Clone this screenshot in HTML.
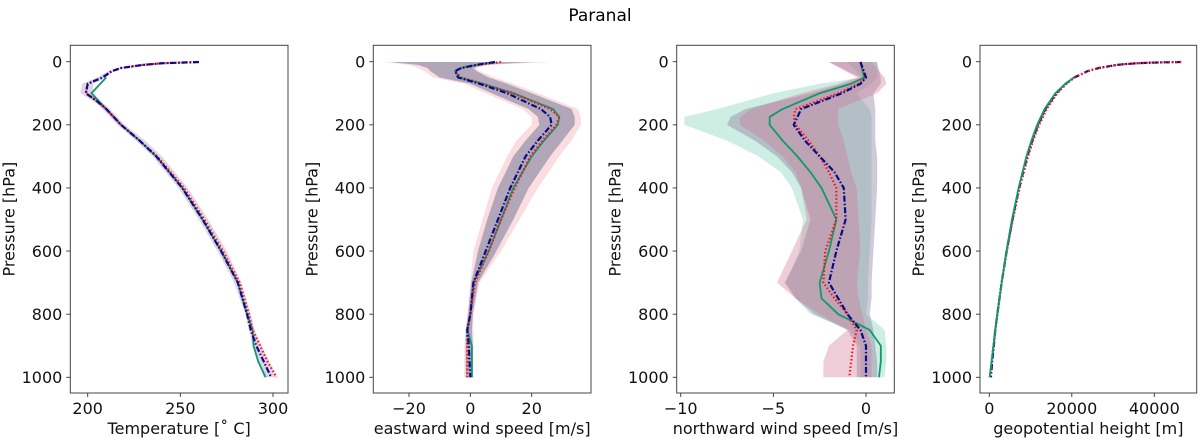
<!DOCTYPE html>
<html><head><meta charset="utf-8"><style>
html,body{margin:0;padding:0;background:#fff;}
svg{display:block;font-family:"DejaVu Sans","Liberation Sans",sans-serif;}
</style></head><body>
<svg id="fig" width="1200" height="439" viewBox="0 0 1200 439" xmlns="http://www.w3.org/2000/svg">
<text x="600" y="21" text-anchor="middle" font-size="17" fill="#000">Paranal</text>
</svg>
<script>
// ---- shared data ----
const pressureTicks = [0, 200, 400, 600, 800, 1000];

// Temperature panel
const tP = [1, 5, 10, 20, 30, 50, 70, 100, 125, 150, 200, 250, 300, 400, 500, 600, 700, 800, 850, 900, 950, 1000];
const tNavy = [260, 240, 230, 218, 213, 208, 200, 199, 205, 210, 218, 228, 237, 251, 262, 272, 281, 286, 288, 291, 295, 299];
const tRed = [260, 240, 230, 218, 213, 208, 200, 199, 205, 210, 218, 228, 237.5, 252, 263, 273, 282, 287, 289, 293, 297, 302];
const tGreenP = [50, 100, 125, 150, 200, 250, 300, 400, 500, 600, 700, 800, 850, 900, 950, 1000];
const tGreen = [210, 202, 206, 210, 218, 228, 237, 251, 262, 272, 281, 286, 289, 289.5, 292, 296];
const tBandLo = [259, 239, 229, 216, 211, 205, 197, 196, 203, 208, 216, 226, 235, 249, 260, 270, 279, 285, 287, 289, 292, 295];
const tBandHi = [261, 241, 231, 219, 214, 210, 203, 203, 207, 212, 220, 231, 240, 254, 265, 275, 283, 288, 290, 294, 298, 302];
const tTicks = [200, 250, 300];

// Eastward wind panel
const uP = [1, 10, 20, 30, 50, 70, 100, 150, 175, 200, 250, 300, 400, 500, 600, 700, 800, 850, 900, 1000];
const uNavy = [8, 2, -3, -5, -4, 3, 12, 23, 26, 26.5, 22, 18, 13, 9, 5, 1, 0, -1, -0.5, 0];
const uRed = [10, 3, -3, -5, -3, 4, 14, 26, 29, 28, 23.5, 19.5, 14.5, 10, 6, 1.5, 0, -1, -1, -1];
const uGreen = [8, 2, -3, -5, -3.5, 4, 14, 27, 29, 28.5, 24, 20, 14, 10, 6, 1, 0, -1, 0.5, 0.5];
const uBandLo = [-28, -20, -17, -15, -12, -2, 5, 17, 20, 20, 15, 12, 7, 4, 1, 0, -1, -1.5, -2, -2];
const uBandHi = [27, 6, 2, 3, 8, 14, 22, 35, 36, 36, 33, 29, 22, 16, 10, 3, 1, 1, 1, 1];
const uBand2Lo = [-26, -17, -14, -13, -10, 0, 7, 19, 22, 22.5, 18, 14, 9, 5.5, 2.5, 0.3, -0.7, -1.5, -1.5, -1.5];
const uBand2Hi = [20, 4, 1, 2, 6, 12, 20, 33, 34, 34, 30, 26, 19, 14, 8.5, 2.5, 0.8, 0.5, 0.8, 0.8];
const uTicks = [-20, 0, 20];

// Northward wind panel
const vP = [1, 50, 70, 100, 150, 175, 200, 250, 300, 350, 400, 500, 600, 700, 750, 800, 850, 900, 950, 1000];
const vNavy = [-0.3, 0, -0.3, -1.3, -3.5, -3.7, -3.9, -3.3, -2.5, -1.7, -1.2, -1.1, -1.6, -2.0, -1.5, -1.0, -0.3, 0, 0, 0];
const vRed = [-0.3, 0, -0.4, -1.5, -3.8, -3.9, -3.8, -3.1, -2.5, -2.0, -1.6, -1.6, -2.2, -2.3, -1.7, -1.0, -0.5, -0.7, -0.8, -0.9];
const vGreen = [-0.3, -0.1, -0.8, -2.5, -4.5, -5.2, -5.2, -4.5, -3.7, -3.0, -2.4, -1.6, -2.0, -2.5, -2.4, -1.5, 0.2, 0.8, 0.8, 0.7];
const vGreenLo = [-1, -0.2, -2.5, -5, -8, -9.8, -9.8, -7.5, -5.8, -4.6, -4, -3.4, -3.6, -4.3, -3.8, -3, -0.8, -0.3, -0.3, -0.3];
const vGreenHi = [0.6, 0.6, 0.3, -0.5, 0.2, 0.3, 0.3, 0.3, 0.3, 0.3, 0.3, 0.3, 0.2, 0.1, 0.1, 0, 1, 1.1, 1.1, 1];
const vNavyLo = [-2, -0.3, -1.2, -3, -6.5, -7.3, -7.5, -6, -4.8, -4, -3.5, -3, -3.5, -4.4, -3.8, -2.8, -1, -0.5, -0.5, -0.5];
const vNavyHi = [0.6, 0.8, 0.8, 0.4, 0.5, 0.5, 0.5, 0.5, 0.6, 0.6, 0.6, 0.5, 0.4, 0.3, 0.3, 0.2, 0.4, 0.5, 0.6, 0.6];
const vRedLo = [-2, -0.5, -1.5, -3.5, -6.2, -6.8, -6.8, -5.5, -4.5, -3.8, -3.5, -3.2, -4, -4.8, -3.8, -2.5, -1, -2, -2.3, -2.3];
const vRedHi = [0.3, 1.0, 1.1, 0.6, -1.5, -1.5, -1.5, -1.2, -1, -0.8, -0.5, -0.4, -0.3, -0.5, -0.4, -0.2, 0, 0.3, 0.3, 0.3];
const vTicks = [-10, -5, 0];

// Geopotential panel
const zP = [1, 2, 3, 5, 7, 10, 20, 30, 50, 70, 100, 150, 200, 250, 300, 400, 500, 600, 700, 800, 850, 900, 950, 1000];
const zNavy = [46500, 42500, 39000, 35800, 33500, 31000, 26500, 23800, 20600, 18500, 16200, 13600, 11800, 10400, 9200, 7200, 5600, 4200, 3000, 1950, 1450, 1100, 700, 400];
const zRed = [46500, 42500, 39000, 35800, 33500, 31000, 26500, 23900, 20700, 18700, 16500, 13900, 12100, 10600, 9400, 7350, 5700, 4250, 3000, 1950, 1450, 1000, 550, 100];
const zGreenP = [50, 70, 100, 150, 200, 250, 300, 400, 500, 600, 700, 800, 850, 900, 950, 1000];
const zGreen = [20500, 18400, 16000, 13400, 11600, 10200, 9000, 7100, 5500, 4150, 3000, 1950, 1450, 1000, 550, 100];
const zTicks = [0, 20000, 40000];

// ---- layout ----
const NS = 'http://www.w3.org/2000/svg';
const svg = document.getElementById('fig');
const TOP = 45.3, BOT = 393;
function yScale(p) { return 61.7 + p * (377.3 - 61.7) / 1000; }
function mk(tag, attrs, parent) {
  const e = document.createElementNS(NS, tag);
  for (const k in attrs) e.setAttribute(k, attrs[k]);
  (parent || svg).appendChild(e);
  return e;
}
function linePath(xs, ps, xf) {
  return ps.map((p, i) => (i ? 'L' : 'M') + xf(xs[i]).toFixed(2) + ',' + yScale(p).toFixed(2)).join('');
}
function bandPath(lo, hi, ps, xf) {
  let d = ps.map((p, i) => (i ? 'L' : 'M') + xf(lo[i]).toFixed(2) + ',' + yScale(p).toFixed(2)).join('');
  for (let i = ps.length - 1; i >= 0; i--) d += 'L' + xf(hi[i]).toFixed(2) + ',' + yScale(ps[i]).toFixed(2);
  return d + 'Z';
}

function panel(cfg) {
  const g = mk('g', {});
  
  
  const xf = v => cfg.x0px + (v - cfg.v0) * (cfg.x1px - cfg.x0px) / (cfg.v1 - cfg.v0);
  const clipId = 'clip-' + cfg.name;
  const cp = mk('clipPath', { id: clipId }, g);
  mk('rect', { x: cfg.left, y: TOP, width: cfg.right - cfg.left, height: BOT - TOP }, cp);
  const plot = mk('g', { 'clip-path': 'url(#' + clipId + ')' }, g);
  
  
  cfg.bands.forEach(b => {
    const e = mk('path', { d: bandPath(b.lo, b.hi, b.p, xf), fill: b.color, 'fill-opacity': b.op, stroke: 'none' }, plot);
    
    
  });
  cfg.lines.forEach(l => {
    const e = mk('path', { d: linePath(l.v, l.p, xf), fill: 'none', stroke: l.color, 'stroke-width': l.w, 'stroke-dasharray': l.dash || 'none', 'stroke-linejoin': 'round' }, plot);
    
    
  });
  const frame = mk('rect', { x: cfg.left, y: TOP, width: cfg.right - cfg.left, height: BOT - TOP, fill: 'none', stroke: '#444', 'stroke-width': 1 }, g);
  
  
  pressureTicks.forEach(p => {
    const y = yScale(p);
    mk('line', { x1: cfg.left - 4, x2: cfg.left, y1: y, y2: y, stroke: '#333', 'stroke-width': 0.9 }, g);
    const t = mk('text', { x: cfg.left - 8, y: y + 5.8, 'text-anchor': 'end', 'font-size': 16, fill: '#111' }, g);
    t.textContent = p;
    
    
  });
  cfg.xticks.forEach(v => {
    const x = xf(v);
    mk('line', { x1: x, x2: x, y1: BOT, y2: BOT + 4, stroke: '#333', 'stroke-width': 0.9 }, g);
    const t = mk('text', { x: x, y: 414, 'text-anchor': 'middle', 'font-size': 16, fill: '#111' }, g);
    t.textContent = v < 0 ? '\u2212' + Math.abs(v) : String(v);
    
    
  });
  const xl = mk('text', { x: (cfg.left + cfg.right) / 2, y: 434, 'text-anchor': 'middle', 'font-size': 16, fill: '#111' }, g);
  xl.textContent = cfg.xlabel;
  
  
  const cy = (TOP + BOT) / 2, cx = cfg.left - 56;
  const yl = mk('text', { x: cx, y: cy, 'text-anchor': 'middle', 'font-size': 16, fill: '#111', transform: 'rotate(-90 ' + cx + ' ' + cy + ')' }, g);
  yl.textContent = 'Pressure [hPa]';
  
  
}

const GREEN = '#0f9a6e', NAVY = '#0a0a8a', RED = '#ff1010';
const DASHDOT = '6,2,1.5,2', DOT = '1.5,2.2';

panel({ name: 'temperature', left: 70.3, right: 288, x0px: 87.7, x1px: 273, v0: 200, v1: 300, xticks: tTicks,
  xlabel: 'Temperature [\u02DA C]',
  bands: [{ name: 'temperature-band', lo: tBandLo, hi: tBandHi, p: tP, color: '#9b6fa8', op: 0.3 }],
  lines: [
    { name: 'temperature-green-line', v: tGreen, p: tGreenP, color: GREEN, w: 1.8 },
    { name: 'temperature-red-line', v: tRed, p: tP, color: RED, w: 2.2, dash: DOT },
    { name: 'temperature-navy-line', v: tNavy, p: tP, color: NAVY, w: 2.2, dash: DASHDOT }
  ] });

panel({ name: 'eastward-wind', left: 373.3, right: 591, x0px: 409, x1px: 531.7, v0: -20, v1: 20, xticks: uTicks,
  xlabel: 'eastward wind speed [m/s]',
  bands: [
    { name: 'eastward-band-red', lo: uBandLo, hi: uBandHi, p: uP, color: '#f08a9a', op: 0.3 },
    { name: 'eastward-band-green', lo: uBand2Lo, hi: uBand2Hi, p: uP, color: '#6fb59a', op: 0.25 },
    { name: 'eastward-band-navy', lo: uBand2Lo, hi: uBand2Hi, p: uP, color: '#6a5a8e', op: 0.35 }
  ],
  lines: [
    { name: 'eastward-green-line', v: uGreen, p: uP, color: GREEN, w: 1.8 },
    { name: 'eastward-red-line', v: uRed, p: uP, color: RED, w: 2.2, dash: DOT },
    { name: 'eastward-navy-line', v: uNavy, p: uP, color: NAVY, w: 2.2, dash: DASHDOT }
  ] });

panel({ name: 'northward-wind', left: 676.7, right: 894.3, x0px: 680.7, x1px: 866, v0: -10, v1: 0, xticks: vTicks,
  xlabel: 'northward wind speed [m/s]',
  bands: [
    { name: 'northward-band-green', lo: vGreenLo, hi: vGreenHi, p: vP, color: '#3db88f', op: 0.25 },
    { name: 'northward-band-navy', lo: vNavyLo, hi: vNavyHi, p: vP, color: '#8a7a9e', op: 0.4 },
    { name: 'northward-band-red', lo: vRedLo, hi: vRedHi, p: vP, color: '#d07090', op: 0.35 }
  ],
  lines: [
    { name: 'northward-green-line', v: vGreen, p: vP, color: GREEN, w: 1.8 },
    { name: 'northward-red-line', v: vRed, p: vP, color: RED, w: 2.2, dash: DOT },
    { name: 'northward-navy-line', v: vNavy, p: vP, color: NAVY, w: 2.2, dash: DASHDOT }
  ] });

panel({ name: 'geopotential', left: 980, right: 1196.7, x0px: 989.3, x1px: 1154.3, v0: 0, v1: 40000, xticks: zTicks,
  xlabel: 'geopotential height [m]',
  bands: [],
  lines: [
    { name: 'geopotential-navy-line', v: zNavy, p: zP, color: NAVY, w: 2.2, dash: DASHDOT },
    { name: 'geopotential-red-line', v: zRed, p: zP, color: RED, w: 2.2, dash: DOT },
    { name: 'geopotential-green-line', v: zGreen, p: zGreenP, color: GREEN, w: 1.8 }
  ] });
</script>
</body></html>
